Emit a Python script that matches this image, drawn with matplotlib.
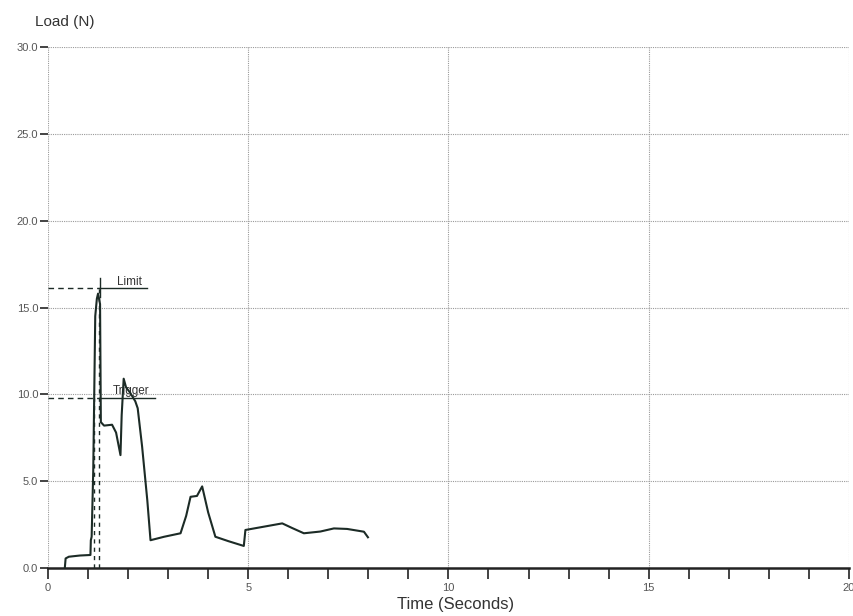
import matplotlib
matplotlib.use("Agg")
import matplotlib.pyplot as plt
from matplotlib.ticker import MultipleLocator

plt.rcParams['font.family'] = ['Liberation Sans', 'DejaVu Sans']

# Data
time_s = [0.42, 0.44, 0.52, 0.80, 1.06, 1.07, 1.09, 1.13, 1.18, 1.22, 1.25, 1.30, 1.32,
          1.40, 1.60, 1.70, 1.81, 1.84, 1.89, 1.95, 2.05, 2.18, 2.24, 2.35, 2.48, 2.56,
          2.90, 3.31, 3.45, 3.56, 3.72, 3.85, 4.00, 4.18, 4.50, 4.89, 4.93, 5.39, 5.85,
          6.10, 6.39, 6.80, 7.14, 7.47, 7.89, 7.99]
load_n = [0.0, 0.55, 0.65, 0.72, 0.75, 1.6, 1.8, 5.6, 14.5, 15.5, 15.8, 15.2, 8.4,
          8.2, 8.25, 7.8, 6.5, 8.8, 10.9, 10.4, 10.1, 9.6, 9.2, 7.0, 3.9, 1.6,
          1.8, 2.0, 3.0, 4.1, 4.15, 4.7, 3.2, 1.8, 1.55, 1.27, 2.19, 2.38, 2.57,
          2.3, 2.0, 2.1, 2.28, 2.25, 2.09, 1.77]

limit_value = 16.1
limit_time = 1.27
trigger_value = 9.8
trigger_time = 1.16

x_ticks = [0, 5, 10, 15, 20]
y_ticks = [0, 5, 10, 15, 20, 25, 30]
y_tick_labels = ["0.0", "5.0", "10.0", "15.0", "20.0", "25.0", "30.0"]

fig = plt.figure(figsize=(8.54, 6.16), dpi=100)
ax = fig.add_axes([0.0562, 0.0779, 0.9378, 0.8458])
ax.set_xlim(0, 20)
ax.set_ylim(0, 30)

grid_col = "#9a9a9a"
for xv in x_ticks[1:]:
    ax.axvline(xv, color=grid_col, lw=0.8, ls=(0, (1, 1)), zorder=1)
for yv in y_ticks[1:]:
    ax.axhline(yv, color=grid_col, lw=0.8, ls=(0, (1, 1)), zorder=1)

for s in ["top", "right", "left"]:
    ax.spines[s].set_visible(False)
ax.axvline(0, color=grid_col, lw=0.8, ls=(0, (1, 1)), zorder=1)
ax.spines["bottom"].set_color("#222222")
ax.spines["bottom"].set_linewidth(1.8)

ax.plot(time_s, load_n, color="#1c2b26", lw=1.5, zorder=5)

# Limit markers
mc = "#1c2b26"
ax.plot([0, limit_time], [limit_value, limit_value], color=mc, lw=1.0, ls=(0, (4, 3)), zorder=4)
ax.plot([limit_time, 2.48], [limit_value, limit_value], color=mc, lw=1.0, zorder=4)
ax.plot([1.29, 1.29], [15.6, 16.7], color=mc, lw=1.0, zorder=4)
ax.text(1.73, limit_value + 0.05, "Limit", fontsize=8.5, color="#333333", va="bottom", ha="left")
ax.plot([limit_time, limit_time], [0, limit_value], color=mc, lw=1.0, ls=(0, (3, 3)), zorder=4)

# Trigger markers
ax.plot([0, 1.30], [trigger_value, trigger_value], color=mc, lw=1.0, ls=(0, (4, 3)), zorder=4)
ax.plot([1.30, 2.68], [trigger_value, trigger_value], color=mc, lw=1.0, zorder=4)
ax.text(1.62, trigger_value + 0.05, "Trigger", fontsize=8.5, color="#333333", va="bottom", ha="left")
ax.plot([trigger_time, trigger_time], [0, trigger_value], color=mc, lw=1.0, ls=(0, (3, 3)), zorder=4)

ax.set_xticks(x_ticks)
ax.set_xticklabels([str(v) for v in x_ticks])
ax.xaxis.set_minor_locator(MultipleLocator(1))
ax.tick_params(axis="x", which="both", direction="out", length=8, width=1.2,
               color="#222222", labelsize=8, labelcolor="#555555", pad=3)
ax.set_yticks(y_ticks)
ax.set_yticklabels(y_tick_labels)
ax.tick_params(axis="y", direction="out", length=6, width=1.2, color="#222222",
               labelsize=8, labelcolor="#555555", pad=1)

fig.text(456 / 854, 1 - 604 / 616, "Time (Seconds)", fontsize=12, color="#333333",
         va="center", ha="center")
fig.text(35 / 854, 1 - 22 / 616, "Load (N)", fontsize=11, color="#333333", va="center", ha="left")

fig.savefig("out.png", dpi=100)
